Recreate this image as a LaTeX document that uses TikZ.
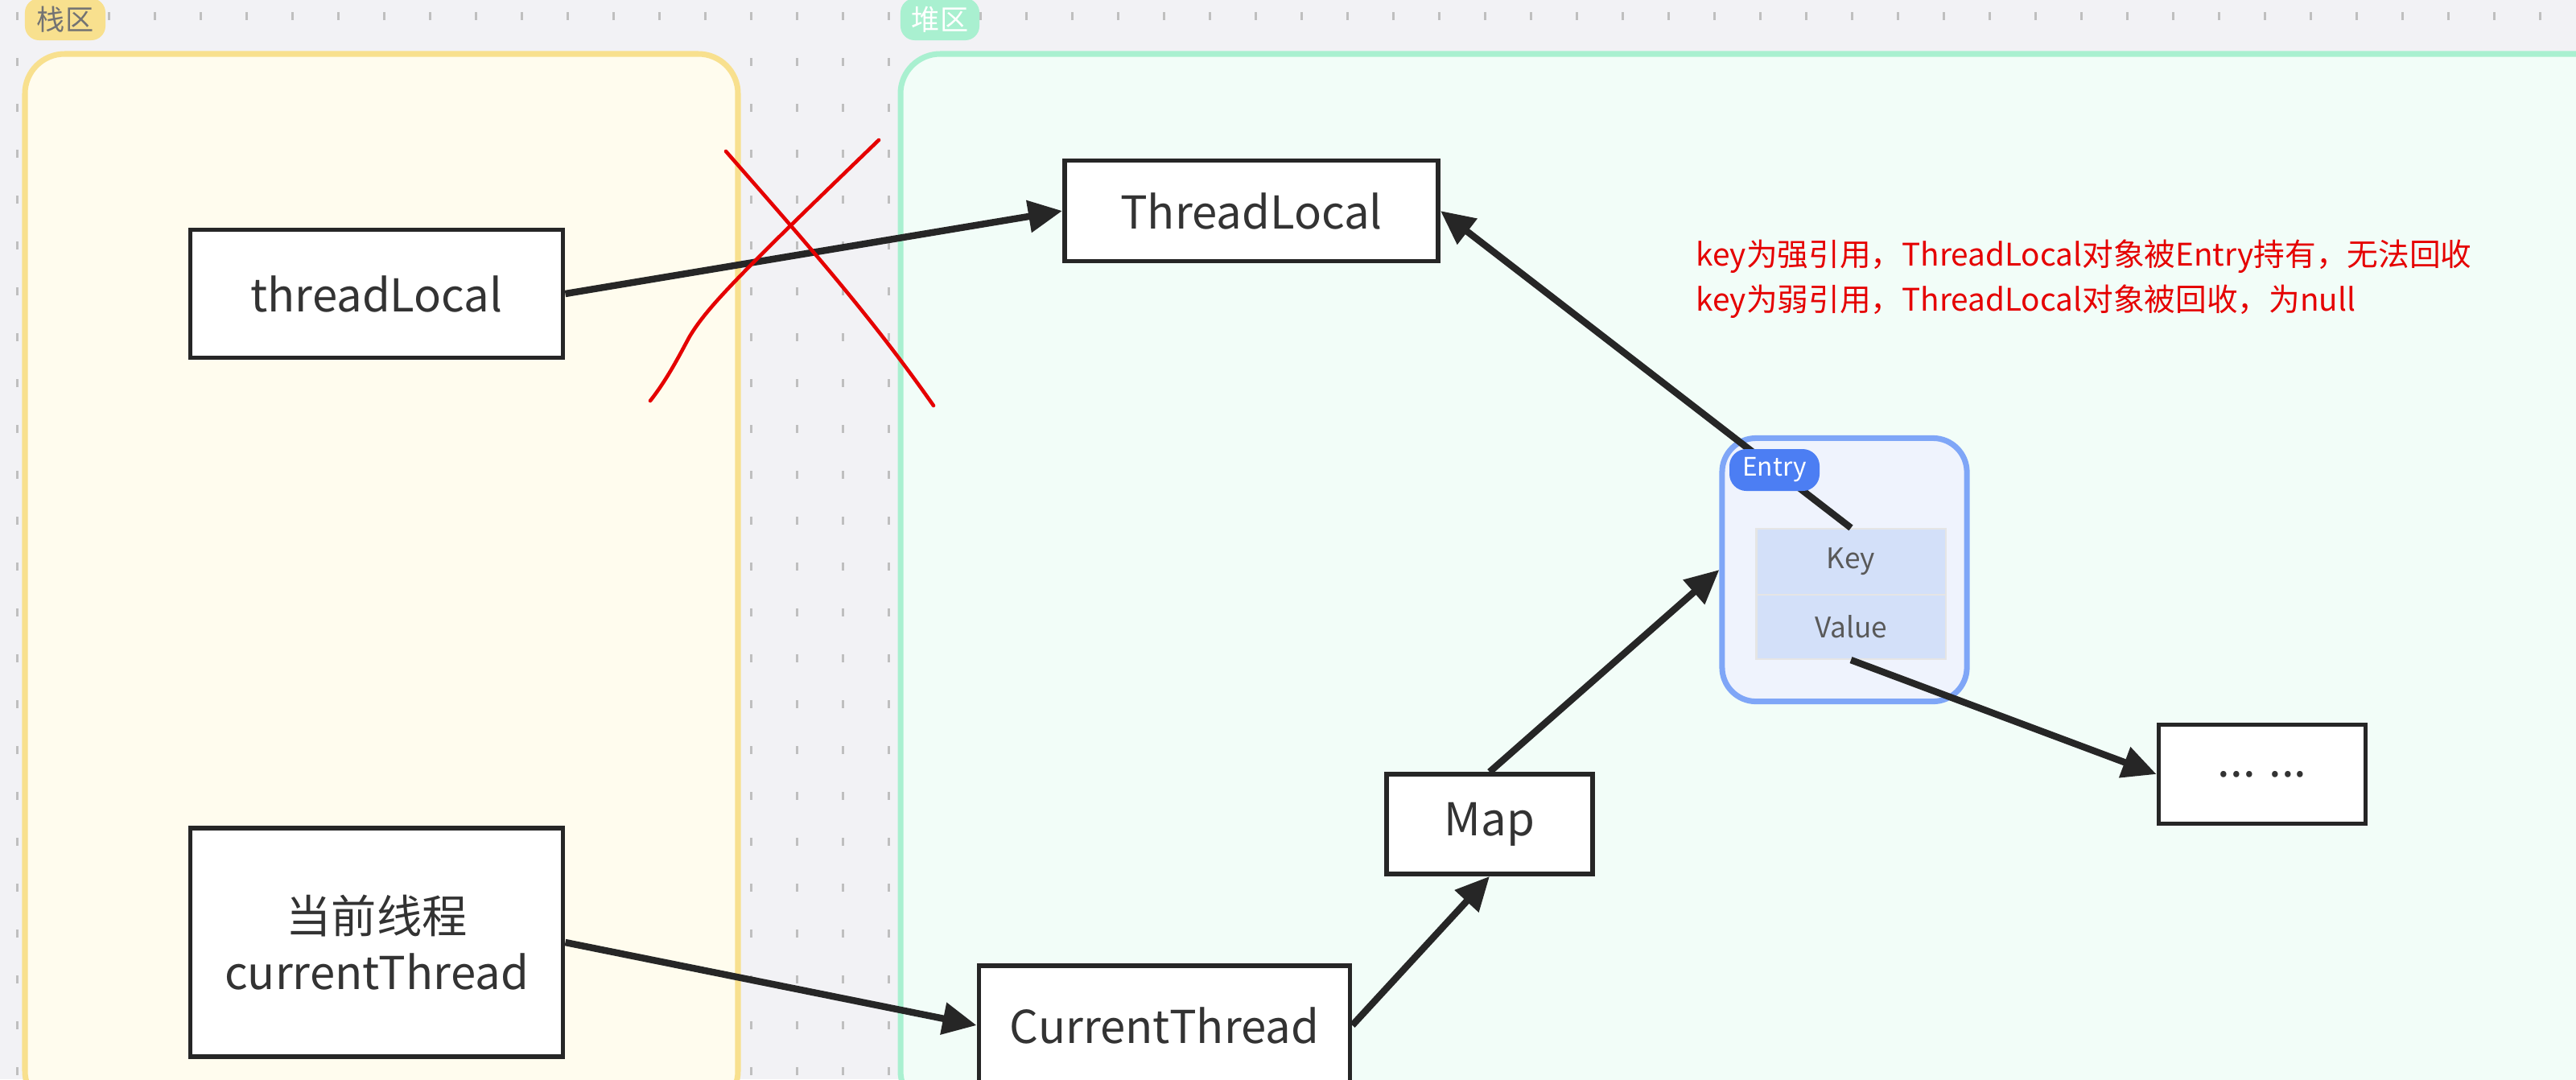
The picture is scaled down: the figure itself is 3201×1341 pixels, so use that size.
\documentclass[tikz,border=0pt]{standalone}
\usepackage{fontspec}
\setmainfont{Noto Sans CJK SC}
\usetikzlibrary{arrows.meta}
\definecolor{bg}{HTML}{F2F2F5}
\definecolor{stkF}{HTML}{FFFCEE}
\definecolor{stkD}{HTML}{F8E08E}
\definecolor{heapF}{HTML}{F2FDF8}
\definecolor{heapD}{HTML}{A9F0D0}
\definecolor{entF}{HTML}{EFF3FD}
\definecolor{entD}{HTML}{7FA6F7}
\definecolor{entT}{HTML}{4C7EF3}
\definecolor{cellF}{HTML}{D3E0F9}
\tikzset{
  obj/.style={draw=black!85,line width=1.6pt,fill=white,font=\fontsize{16}{20}\selectfont,text=black!80,inner sep=0pt},
  conn/.style={line width=2.4pt,black!85,-{Triangle[length=12pt,width=11pt]}},
  cell/.style={fill=cellF,draw=black!10,line width=0.6pt,font=\fontsize{10}{12}\selectfont,text=black!65,inner sep=0pt},
  redx/.style={red!90!black,line width=1.3pt,line cap=round},
  tag/.style={rounded corners=5pt,minimum height=0.52cm,inner sep=0pt,font=\fontsize{10}{12}\selectfont}
}
\begin{document}
\begin{tikzpicture}[x=0.01cm,y=-0.01cm]
\useasboundingbox (0,0) rectangle (3201,1341);
\fill[bg] (0,0) rectangle (3201,1341);
\foreach \i in {0,...,56}{\foreach \j in {0,...,23}{\fill[black!25] (20+\i*57,15+\j*57) rectangle ++(3,10);}}
% panels
\draw[stkD,fill=stkF,line width=2pt,rounded corners=14pt] (31,67) rectangle (917,1380);
\draw[heapD,fill=heapF,line width=2pt,rounded corners=14pt] (1119,67) rectangle (3260,1380);
\node[tag,fill=stkD,minimum width=1.0cm,text=black!55] (stag) at (81,24) {栈区};
\node[tag,fill=heapD,minimum width=0.98cm,text=white] (htag) at (1168,24) {堆区};
% nodes
\node[obj,minimum width=4.63cm,minimum height=1.59cm] (tl) at (468,365) {threadLocal};
\node[obj,minimum width=4.64cm,minimum height=1.25cm] (TL) at (1555,262) {ThreadLocal};
\node[obj,minimum width=4.63cm,minimum height=2.84cm,align=center] (ct) at (468,1171) {当前线程\\currentThread};
\node[obj,minimum width=4.61cm,minimum height=1.48cm] (CT) at (1447,1274) {CurrentThread};
\node[obj,minimum width=2.56cm,minimum height=1.24cm] (map) at (1851,1024) {Map};
\node[obj,minimum width=2.57cm,minimum height=1.23cm] (dots) at (2811,962) {... ...};
% entry
\node[draw=entD,fill=entF,line width=2pt,rounded corners=12pt,minimum width=3.04cm,minimum height=3.27cm,inner sep=0pt] (entry) at (2292,708) {};
\node[cell,minimum width=2.35cm,minimum height=0.82cm] (key) at (2300,698) {Key};
\node[cell,minimum width=2.35cm,minimum height=0.80cm] (val) at (2300,779) {Value};
\draw[conn] (key.north) -- (TL.east);
\node[fill=entT,rounded corners=6pt,minimum width=1.12cm,minimum height=0.52cm,inner sep=0pt,font=\fontsize{9}{10}\selectfont,text=white] (etag) at (2205,584) {Entry};
% red text
\node[anchor=west,text=red!90!black,font=\fontsize{11}{16}\selectfont,align=left,inner sep=0pt] (note) at (2107,347) {key为强引用，ThreadLocal对象被Entry持有，无法回收\\key为弱引用，ThreadLocal对象被回收，为null};
% connectors
\draw[conn] (tl.east) -- (TL.west);
\draw[conn] (val.south) -- (dots.west);
\draw[conn] (ct.east) -- (CT.west);
\draw[conn] (CT.east) -- (map.south);
\draw[conn] (map.north) -- (entry.west);
% red X
\draw[redx] (808,498) .. controls (830,470) and (845,440) .. (857,418) .. controls (880,380) and (920,340) .. (1092,174);
\draw[redx] (902,188) .. controls (1000,300) and (1080,390) .. (1160,504);
\end{tikzpicture}
\end{document}
